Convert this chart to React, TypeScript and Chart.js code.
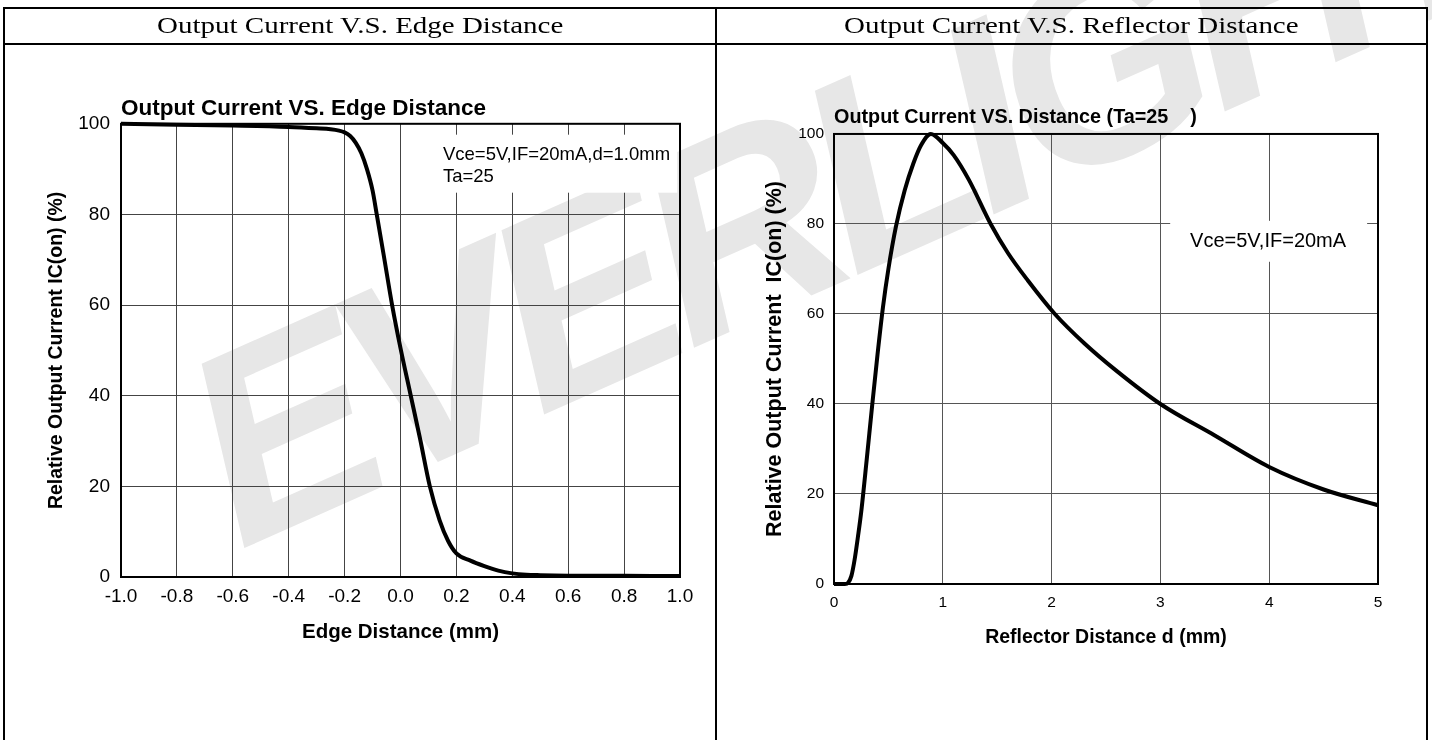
import React, { useEffect, useRef } from "react";
import { Chart, registerables } from "chart.js";

Chart.register(...registerables);

// ---------- data: left chart (edge distance) ----------
const edgeDistance = [-1.0, -0.8, -0.6, -0.4, -0.3, -0.25, -0.22, -0.2, -0.18, -0.16, -0.14, -0.12, -0.1, -0.085, -0.06, -0.03, 0.0, 0.035, 0.07, 0.105, 0.14, 0.17, 0.2, 0.25, 0.3, 0.35, 0.4, 0.45, 0.5, 0.6, 0.8, 1.0];
const edgeCurrent = [100, 99.8, 99.6, 99.3, 99.0, 98.8, 98.5, 98.1, 97.3, 95.8, 93.5, 90, 85.3, 80, 71, 60, 50.5, 40.5, 30.5, 20, 12.5, 8, 5.2, 3.6, 2.4, 1.4, 0.8, 0.5, 0.4, 0.3, 0.25, 0.2];
const edgeTicks = [-1.0, -0.8, -0.6, -0.4, -0.2, 0.0, 0.2, 0.4, 0.6, 0.8, 1.0];

// ---------- data: right chart (reflector distance) ----------
const reflectorDistance = [0, 0.1, 0.13, 0.16, 0.19, 0.22, 0.25, 0.3, 0.35, 0.4, 0.45, 0.5, 0.57, 0.65, 0.73, 0.8, 0.89, 1.0, 1.1, 1.24, 1.44, 1.6, 1.78, 2.03, 2.3, 2.6, 3.0, 3.5, 4.0, 4.5, 5.0];
const reflectorCurrent = [0, 0, 0.3, 1.8, 5.5, 10.5, 16, 27.5, 39.5, 51, 61.5, 70, 79.5, 87.5, 93.5, 97.5, 100, 98, 95.3, 89.8, 80, 73.5, 67.5, 60, 53.5, 47.3, 40, 33, 26, 21, 17.5];
const reflectorTicks = [0, 1, 2, 3, 4, 5];

const currentTicks = [0, 20, 40, 60, 80, 100];

const headers = ["Output Current V.S. Edge Distance", "Output Current V.S. Reflector Distance"];

const SANS = "Arial, 'Liberation Sans', Helvetica, sans-serif";

type Note = {
  lines: string[];
  font: number;
  box: { x0: number; x1: number; y0: number; y1: number }; // data units
  textX: number;
  textY: number[];
  align: CanvasTextAlign;
};

function framePlugin(note: Note) {
  return {
    id: "frameNote",
    beforeDatasetsDraw(chart: any) {
      const { ctx, chartArea, scales } = chart;
      const x = scales.x;
      const y = scales.y;
      ctx.save();
      const bx0 = x.getPixelForValue(note.box.x0);
      const bx1 = x.getPixelForValue(note.box.x1);
      const by0 = y.getPixelForValue(note.box.y0);
      const by1 = y.getPixelForValue(note.box.y1);
      ctx.fillStyle = "#ffffff";
      ctx.fillRect(bx0, by1, bx1 - bx0, by0 - by1);
      ctx.fillStyle = "#000000";
      ctx.font = `${note.font}px ${SANS}`;
      ctx.textAlign = note.align;
      ctx.textBaseline = "middle";
      note.lines.forEach((t, i) => {
        ctx.fillText(t, x.getPixelForValue(note.textX), y.getPixelForValue(note.textY[i]));
      });
      ctx.strokeStyle = "#000000";
      ctx.lineWidth = 2;
      ctx.strokeRect(chartArea.left, chartArea.top, chartArea.right - chartArea.left, chartArea.bottom - chartArea.top);
      ctx.restore();
    },
  };
}

type Cfg = {
  xs: number[];
  ys: number[];
  xMin: number;
  xMax: number;
  xTicks: number[];
  xFmt: (v: number) => string;
  title: string;
  titleFont: number;
  xTitle: string;
  xTitleFont: number;
  yTitle: string;
  yTitleFont: number;
  tickFont: number;
  xTickPad: number;
  yTickPad: number;
  padding: { left: number; right: number; top: number; bottom: number };
  titlePadBottom: number;
  yWidth: number;
  xHeight: number;
  gridColor: string;
  note: Note;
};

function LineChart({ cfg, left }: { cfg: Cfg; left: number }) {
  const ref = useRef<HTMLCanvasElement | null>(null);
  useEffect(() => {
    if (!ref.current) return;
    const pts = cfg.xs.map((v, i) => ({ x: v, y: cfg.ys[i] }));
    const chart = new Chart(ref.current, {
      type: "line",
      data: {
        datasets: [
          {
            data: pts,
            borderColor: "#000000",
            borderWidth: 4,
            pointRadius: 0,
            fill: false,
            cubicInterpolationMode: "monotone",
            clip: false as any,
          },
        ],
      },
      options: {
        animation: false,
        responsive: false,
        devicePixelRatio: 1,
        layout: { padding: cfg.padding },
        plugins: {
          legend: { display: false },
          tooltip: { enabled: false },
          title: {
            display: true,
            text: cfg.title,
            align: "start",
            fullSize: false,
            color: "#000000",
            font: { family: SANS, size: cfg.titleFont, weight: "bold", lineHeight: 1.2 },
            padding: { top: 0, bottom: cfg.titlePadBottom },
          },
        },
        scales: {
          x: {
            type: "linear",
            min: cfg.xMin,
            max: cfg.xMax,
            afterBuildTicks: (s: any) => {
              s.ticks = cfg.xTicks.map((v) => ({ value: v }));
            },
            afterFit: (s: any) => {
              s.height = cfg.xHeight;
            },
            grid: { color: cfg.gridColor, lineWidth: 1, drawTicks: false },
            border: { display: false },
            ticks: {
              color: "#000000",
              padding: cfg.xTickPad,
              maxRotation: 0,
              autoSkip: false,
              font: { family: SANS, size: cfg.tickFont, lineHeight: 1.2 },
              callback: (v: any) => cfg.xFmt(Number(v)),
            },
            title: {
              display: true,
              text: cfg.xTitle,
              color: "#000000",
              padding: 0,
              font: { family: SANS, size: cfg.xTitleFont, weight: "bold", lineHeight: 1.2 },
            },
          },
          y: {
            type: "linear",
            min: 0,
            max: 100,
            afterBuildTicks: (s: any) => {
              s.ticks = currentTicks.map((v) => ({ value: v }));
            },
            afterFit: (s: any) => {
              s.width = cfg.yWidth;
            },
            grid: { color: cfg.gridColor, lineWidth: 1, drawTicks: false },
            border: { display: false },
            ticks: {
              color: "#000000",
              padding: cfg.yTickPad,
              autoSkip: false,
              font: { family: SANS, size: cfg.tickFont, lineHeight: 1.2 },
              callback: (v: any) => String(v),
            },
            title: {
              display: true,
              text: cfg.yTitle,
              color: "#000000",
              padding: 0,
              font: { family: SANS, size: cfg.yTitleFont, weight: "bold", lineHeight: 1.2 },
            },
          },
        },
      },
      plugins: [framePlugin(cfg.note)],
    });
    return () => chart.destroy();
  }, []);
  return (
    <canvas
      ref={ref}
      width={716}
      height={740}
      style={{ position: "absolute", left, top: 0, width: 716, height: 740, zIndex: 1 }}
    />
  );
}

const leftCfg: Cfg = {
  xs: edgeDistance,
  ys: edgeCurrent,
  xMin: -1,
  xMax: 1,
  xTicks: edgeTicks,
  xFmt: (v) => (Math.abs(v) < 1e-9 ? "0.0" : v.toFixed(1)),
  title: "Output Current VS. Edge Distance",
  titleFont: 22.5,
  xTitle: "Edge Distance (mm)",
  xTitleFont: 20.5,
  yTitle: "Relative Output Current IC(on) (%)",
  yTitleFont: 19.5,
  tickFont: 19,
  xTickPad: 8,
  yTickPad: 11,
  padding: { left: 44.8, right: 36, top: 94.8, bottom: 95.7 },
  titlePadBottom: 2,
  yWidth: 76.2,
  xHeight: 67.3,
  gridColor: "#444444",
  note: {
    lines: ["Vce=5V,IF=20mA,d=1.0mm", "Ta=25"],
    font: 18.5,
    box: { x0: 0.088, x1: 0.99, y0: 84.8, y1: 97.6 },
    textX: 0.152,
    textY: [93.2, 88.3],
    align: "left",
  },
};

const rightCfg: Cfg = {
  xs: reflectorDistance,
  ys: reflectorCurrent,
  xMin: 0,
  xMax: 5,
  xTicks: reflectorTicks,
  xFmt: (v) => String(Math.round(v)),
  title: "Output Current VS. Distance (Ta=25    )",
  titleFont: 19.8,
  xTitle: "Reflector Distance d (mm)",
  xTitleFont: 19.5,
  yTitle: "Relative Output Current  IC(on) (%)",
  yTitleFont: 21.5,
  tickFont: 15.5,
  xTickPad: 9.7,
  yTickPad: 10,
  padding: { left: 46.1, right: 54, top: 105.6, bottom: 90.8 },
  titlePadBottom: 4.6,
  yWidth: 71.9,
  xHeight: 65.2,
  gridColor: "#555555",
  note: {
    lines: ["Vce=5V,IF=20mA"],
    font: 20,
    box: { x0: 3.09, x1: 4.9, y0: 71.6, y1: 80.7 },
    textX: 3.99,
    textY: [76],
    align: "center",
  },
};

export default function App() {
  return (
    <div
      style={{
        position: "fixed",
        left: 0,
        top: 0,
        width: 1432,
        height: 740,
        overflow: "hidden",
        background: "#ffffff",
      }}
    >
      {/* watermark */}
      <div style={{ position: "absolute", left: 0, top: 0, width: 1432, height: 740, zIndex: 0, overflow: "hidden" }}>
        <span
          style={{
            position: "absolute",
            left: 240,
            top: 322,
            fontFamily: SANS,
            fontWeight: 900,
            fontStyle: "italic",
            fontSize: 270,
            lineHeight: "270px",
            letterSpacing: "-16px",
            color: "#e7e7e7",
            whiteSpace: "nowrap",
            transformOrigin: "0px 228px",
            transform: "rotate(-24deg)",
          }}
        >
          EVERLIGHT
        </span>
      </div>

      <LineChart cfg={leftCfg} left={0} />
      <LineChart cfg={rightCfg} left={716} />

      {/* table frame */}
      <div
        style={{
          position: "absolute",
          left: 3,
          top: 7,
          width: 1421,
          height: 800,
          border: "2px solid #000",
          zIndex: 2,
        }}
      />
      <div style={{ position: "absolute", left: 3, top: 43, width: 1425, height: 2, background: "#000", zIndex: 2 }} />
      <div style={{ position: "absolute", left: 715, top: 7, width: 2, height: 740, background: "#000", zIndex: 2 }} />
      {headers.map((h, i) => (
        <div
          key={h}
          style={{
            position: "absolute",
            left: i === 0 ? 5 : 717,
            top: 9,
            width: i === 0 ? 710 : 709,
            height: 34,
            display: "flex",
            justifyContent: "center",
            zIndex: 2,
          }}
        >
          <span
            style={{
              display: "inline-block",
              lineHeight: "34px",
              whiteSpace: "nowrap",
              fontFamily: "'Times New Roman', 'Liberation Serif', serif",
              fontSize: 23,
              color: "#000",
              transform: "scaleX(1.26)",
              transformOrigin: "50% 50%",
            }}
          >
            {h}
          </span>
        </div>
      ))}
    </div>
  );
}
